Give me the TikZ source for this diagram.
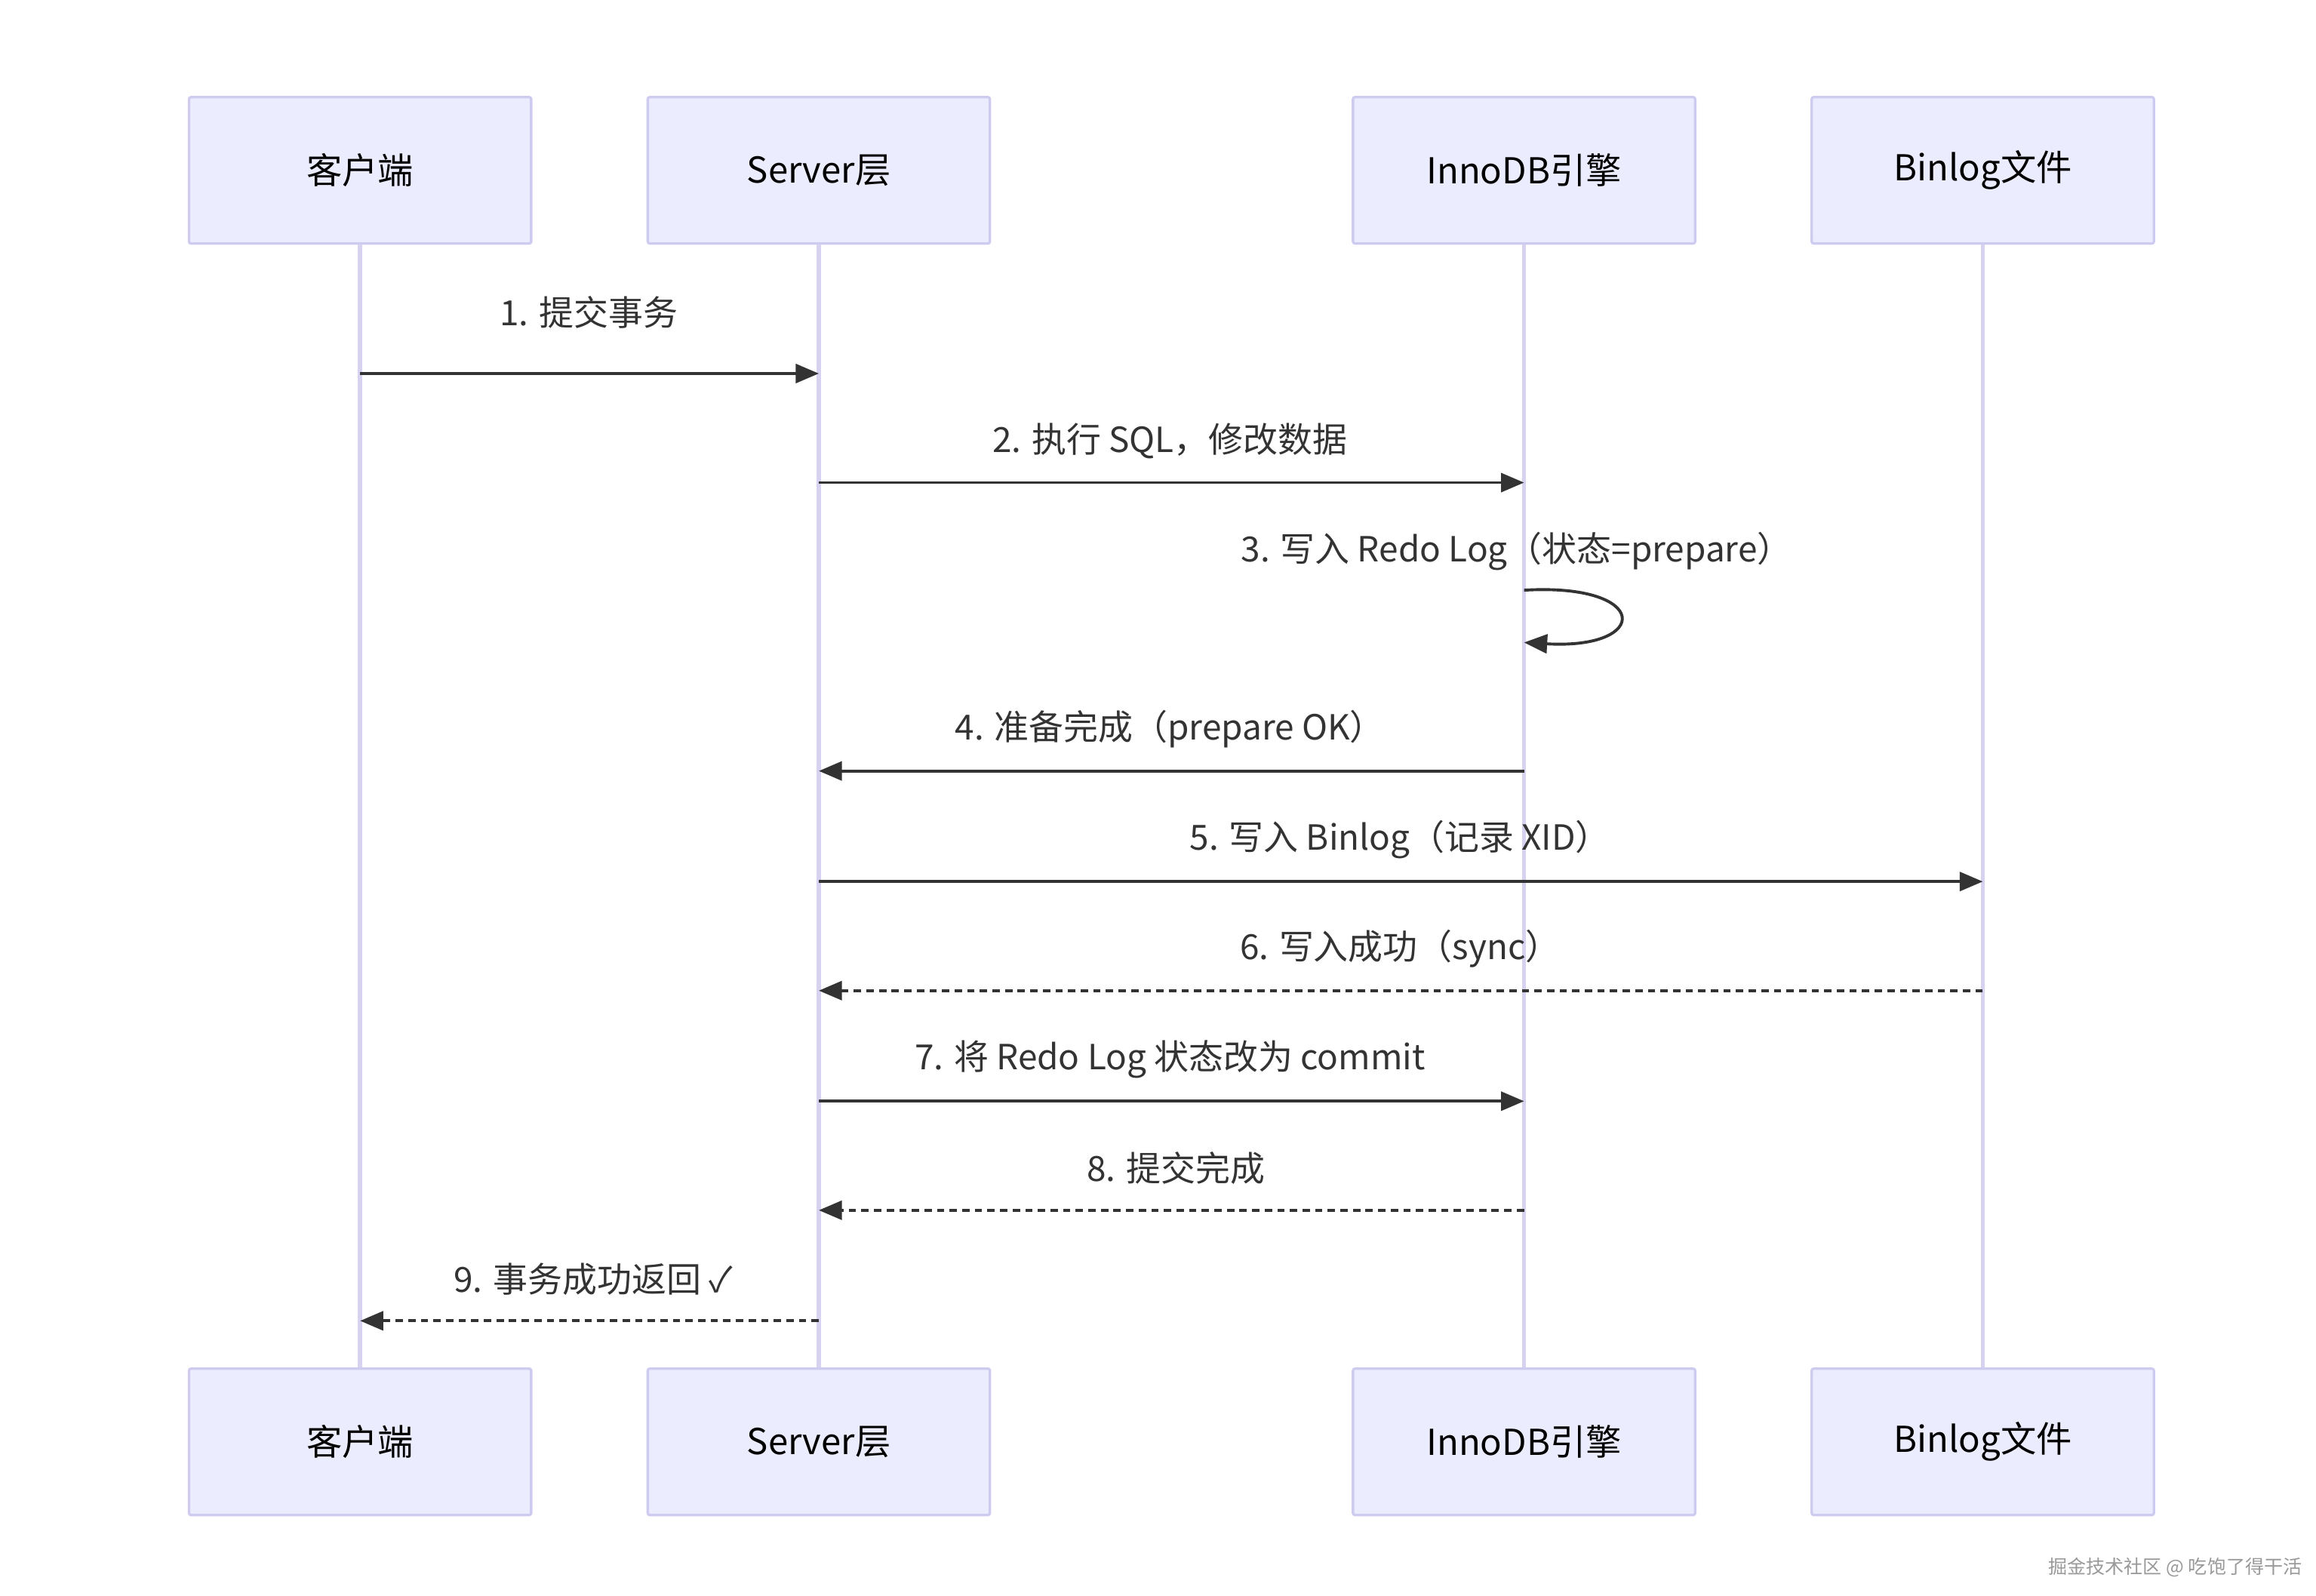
\documentclass[tikz,border=0pt]{standalone}
\usepackage{fontspec}
\setmainfont{Noto Sans CJK SC}
\usetikzlibrary{arrows.meta}
\definecolor{boxfill}{HTML}{ECECFF}
\definecolor{boxdraw}{HTML}{CFCBF0}
\definecolor{life}{HTML}{D6D2F0}
\definecolor{ink}{HTML}{333333}
\begin{document}
\begin{tikzpicture}[x=0.05cm,y=-0.05cm,
 actor/.style={draw=boxdraw,fill=boxfill,line width=2.4pt,minimum width=229*0.05cm,minimum height=98*0.05cm,font=\fontsize{34}{40}\selectfont,rounded corners=2pt},
 lifeline/.style={draw=life,line width=4pt},
 msg/.style={draw=ink,line width=2.8pt,-{Triangle[length=22pt,width=18pt]}},
 reply/.style={msg,dash pattern=on 7pt off 5pt},
 lbl/.style={font=\fontsize{33}{40}\selectfont,text=ink}]
\useasboundingbox (0,0) rectangle (1550,1068);
\foreach \n/\x/\t in {c/241/客户端,s/548/Server层,i/1020/InnoDB引擎,b/1327/Binlog文件}{
 \node[actor] (\n t) at (\x,114) {\t};
 \node[actor] (\n b) at (\x,965) {\t};
}
\foreach \n in {c,s,i,b}{\draw[lifeline] (\n t.south) -- (\n b.north);}
\foreach \n/\y in {1/250,2/323,3/395,4/516,5/590,6/663,7/737,8/810,9/884}{
 \coordinate (c\n) at (241,\y); \coordinate (s\n) at (548,\y);
 \coordinate (i\n) at (1020,\y); \coordinate (b\n) at (1327,\y);}
\draw[msg] (c1) -- (s1); \node[lbl] (l1) at (394,209) {1. 提交事务};
\draw[msg] (s2) -- (i2); \node[lbl] (l2) at (783,295) {2. 执行 SQL，修改数据};
\coordinate (i3b) at (1020,430);
\draw[msg] (i3) .. controls (1105,390) and (1105,435) .. (i3b);
\node[lbl] (l3) at (1015,369) {3. 写入 Redo Log（状态=prepare）};
\draw[msg] (i4) -- (s4); \node[lbl] (l4) at (783,488) {4. 准备完成（prepare OK）};
\draw[msg] (s5) -- (b5); \node[lbl] (l5) at (937,562) {5. 写入 Binlog（记录 XID）};
\draw[reply] (b6) -- (s6); \node[lbl] (l6) at (937,635) {6. 写入成功（sync）};
\draw[msg] (s7) -- (i7); \node[lbl] (l7) at (783,709) {7. 将 Redo Log 状态改为 commit};
\draw[reply] (i8) -- (s8); \node[lbl] (l8) at (787,782) {8. 提交完成};
\draw[reply] (s9) -- (c9); \node[lbl] (l9) at (397,856) {9. 事务成功返回 ✓};
\node[font=\fontsize{18}{22}\selectfont,text=gray!80,anchor=east] (wm) at (1543,1049) {掘金技术社区 @ 吃饱了得干活};
\end{tikzpicture}
\end{document}
